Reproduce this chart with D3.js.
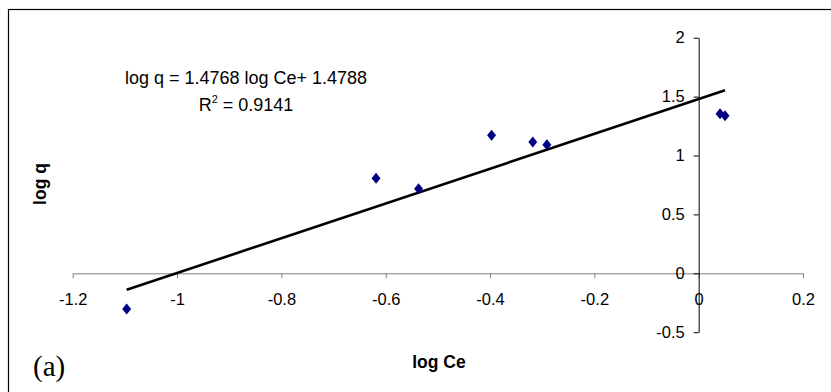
<!DOCTYPE html>
<html>
<head>
<meta charset="utf-8">
<script src="https://cdn.jsdelivr.net/npm/d3@7"></script>
<style>
  html, body { margin: 0; padding: 0; background: #fff; }
  svg { display: block; }
  .tick text { font-family: "Liberation Sans", Arial, sans-serif; }
</style>
</head>
<body>
<svg id="chart" width="831" height="392"></svg>
<script>
// Freundlich isotherm: log q against log Ce
const logCe = [-1.0965, -0.6185, -0.537, -0.397, -0.318, -0.291, 0.041, 0.0505];
const logQ  = [-0.303, 0.807, 0.718, 1.171, 1.115, 1.092, 1.355, 1.338];

// Linear fit reported on the chart
const slope = 1.4768;
const intercept = 1.4788;
const rSquared = 0.9141;

const xTicks = [-1.2, -1, -0.8, -0.6, -0.4, -0.2, 0, 0.2];
const yTicks = [-0.5, 0, 0.5, 1, 1.5, 2];

const svg = d3.select("#chart");

// chart area frame (runs off the right and bottom edges)
svg.append("rect")
  .attr("x", 8.5).attr("y", 9.5)
  .attr("width", 900).attr("height", 500)
  .attr("fill", "none").attr("stroke", "#000").attr("stroke-width", 1.2);

const x = d3.scaleLinear().domain([-1.2, 0.2]).range([72.7, 803]);
const y = d3.scaleLinear().domain([-0.5, 2]).range([332.2, 37.7]);

// plain hyphen for negatives
const fmt = d => String(d);

// horizontal axis crossing at log q = 0
const gx = svg.append("g")
  .attr("transform", `translate(0,${y(0)})`)
  .call(d3.axisBottom(x).tickValues(xTicks).tickFormat(fmt)
    .tickSize(5).tickSizeOuter(0).tickPadding(15));
gx.select(".domain").attr("stroke", "#808080");
gx.selectAll(".tick line").attr("stroke", "#808080");
gx.selectAll(".tick text").attr("font-size", 16.5).attr("fill", "#000");

// vertical axis crossing at log Ce = 0
const gy = svg.append("g")
  .attr("transform", `translate(${x(0)},0)`)
  .call(d3.axisLeft(y).tickValues(yTicks).tickFormat(fmt)
    .tickSize(5).tickSizeOuter(0).tickPadding(9));
gy.select(".domain").attr("stroke", "#000");
gy.selectAll(".tick line").attr("stroke", "#000");
gy.selectAll(".tick text").attr("font-size", 16.5).attr("fill", "#000");

// trend line over the span of the data
const [xmin, xmax] = d3.extent(logCe);
svg.append("line")
  .attr("x1", x(xmin)).attr("y1", y(slope * xmin + intercept))
  .attr("x2", x(xmax)).attr("y2", y(slope * xmax + intercept))
  .attr("stroke", "#000").attr("stroke-width", 2.6);

// data markers (diamonds)
const pts = logCe.map((v, i) => [v, logQ[i]]);
svg.append("g").selectAll("path")
  .data(pts).join("path")
  .attr("transform", d => `translate(${x(d[0])},${y(d[1])})`)
  .attr("d", "M0,-5.5L4.5,0L0,5.5L-4.5,0Z")
  .attr("fill", "#000080");

// equation and R²
svg.append("text")
  .attr("x", 246).attr("y", 84)
  .attr("text-anchor", "middle")
  .attr("font-family", "Liberation Sans, Arial, sans-serif")
  .attr("font-size", 18)
  .text(`log q = ${slope} log Ce+ ${intercept}`);

const r2 = svg.append("text")
  .attr("x", 246).attr("y", 111)
  .attr("text-anchor", "middle")
  .attr("font-family", "Liberation Sans, Arial, sans-serif")
  .attr("font-size", 18);
r2.append("tspan").text("R");
r2.append("tspan").attr("dy", -8).attr("font-size", 11).text("2");
r2.append("tspan").attr("dy", 8).text(` = ${rSquared}`);

// axis titles
svg.append("text")
  .attr("x", 439).attr("y", 368)
  .attr("text-anchor", "middle")
  .attr("font-family", "Liberation Sans, Arial, sans-serif")
  .attr("font-weight", "bold").attr("font-size", 17.5)
  .text("log Ce");

svg.append("text")
  .attr("transform", "translate(46,184) rotate(-90)")
  .attr("text-anchor", "middle")
  .attr("font-family", "Liberation Sans, Arial, sans-serif")
  .attr("font-weight", "bold").attr("font-size", 17.5)
  .text("log q");

// panel label
svg.append("text")
  .attr("x", 33).attr("y", 376)
  .attr("font-family", "Liberation Serif, Times New Roman, serif")
  .attr("font-size", 29)
  .text("(a)");
</script>
</body>
</html>
